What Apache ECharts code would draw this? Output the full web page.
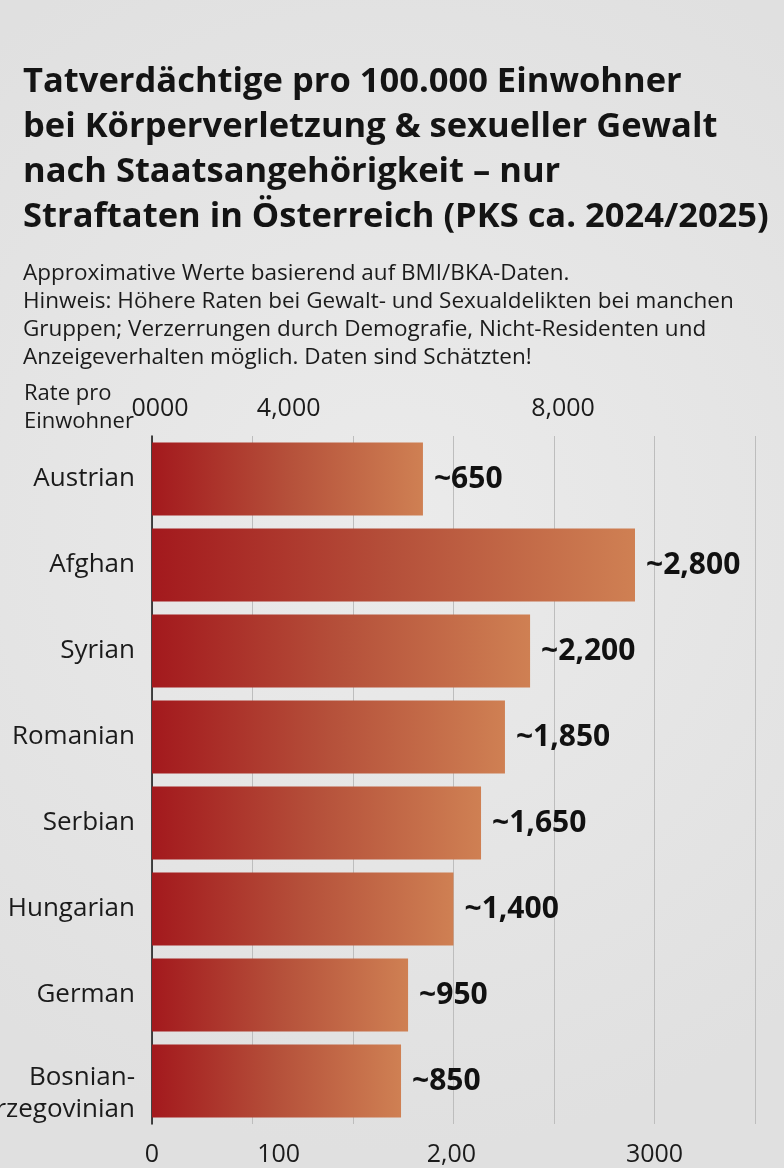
<!DOCTYPE html>
<html>
<head>
<meta charset="utf-8">
<script src="https://cdn.jsdelivr.net/npm/echarts@6/dist/echarts.min.js"></script>
<style>
  html, body { margin: 0; padding: 0; background: #e5e5e5; }
  #chart { width: 784px; height: 1168px; }
</style>
</head>
<body>
<div id="chart"></div>
<script>
// categories, top to bottom
const countries = ["Austrian", "Afghan", "Syrian", "Romanian", "Serbian", "Hungarian", "German", "Bosnian-\nHerzegovinian"]
// bar lengths as drawn, read against the gridlines (one gridline = 500 units)
const barValues = [1348, 2403, 1881, 1756, 1637, 1500, 1274, 1239]
// printed value labels next to the bars
const valueLabels = ["~650", "~2,800", "~2,200", "~1,850", "~1,650", "~1,400", "~950", "~850"]

// tick labels as printed (they don't sit on the gridlines)
const bottomTickValues = [0, 630, 1490, 2500]
const bottomTickLabels = ["0", "100", "2,00", "3000"]
const topTickValues = [40, 680, 2045]
const topTickLabels = ["0000", "4,000", "8,000"]

const titleText = "Tatverdächtige pro 100.000 Einwohner\nbei Körperverletzung & sexueller Gewalt\nnach Staatsangehörigkeit – nur\nStraftaten in Österreich (PKS ca. 2024/2025)"
const subText = "Approximative Werte basierend auf BMI/BKA-Daten.\nHinweis: Höhere Raten bei Gewalt- und Sexualdelikten bei manchen\nGruppen; Verzerrungen durch Demografie, Nicht-Residenten und\nAnzeigeverhalten möglich. Daten sind Schätzten!"

const font = "'Open Sans', 'Noto Sans', sans-serif"
const ink = "#1b1b1b"

const chart = echarts.init(document.getElementById("chart"), null, {renderer: "canvas"})

// the two-line label sits a little lower than its bar: push it down with a thin spacer line
function categoryLabel(v) {
  if (!v.includes("\n")) return v
  return "{s| }\n" + v.split("\n").map(t => "{n|" + t + "}").join("\n")
}

const option = {
  backgroundColor: new echarts.graphic.RadialGradient(0.5, 0.45, 0.8, [
    {offset: 0, color: "#ebebeb"},
    {offset: 1, color: "#e0e0e0"}
  ]),
  textStyle: {fontFamily: font},
  title: [
    {
      text: titleText,
      left: 18, top: 55,
      textStyle: {fontFamily: font, fontSize: 34.5, fontWeight: "bold", color: "#141414", lineHeight: 45}
    },
    {
      text: subText,
      left: 18, top: 255,
      textStyle: {fontFamily: font, fontSize: 22.5, fontWeight: "normal", color: ink, lineHeight: 28}
    },
    {
      text: "Rate pro\nEinwohner",
      left: 19, top: 375,
      textStyle: {fontFamily: font, fontSize: 22, fontWeight: "normal", color: ink, lineHeight: 28}
    }
  ],
  grid: {left: 152, right: 29, top: 436, height: 688, containLabel: false, outerBoundsMode: "none"},
  xAxis: [
    {
      type: "value", position: "bottom", min: 0, max: 3000, interval: 500,
      axisLine: {show: false}, axisTick: {show: false}, axisLabel: {show: false},
      splitLine: {show: true, lineStyle: {color: "#bdbdbd", width: 1}}
    },
    {
      type: "value", position: "bottom", min: 0, max: 3000,
      axisLine: {show: false}, axisTick: {show: false}, splitLine: {show: false},
      axisLabel: {
        customValues: bottomTickValues,
        formatter: v => bottomTickLabels[bottomTickValues.indexOf(v)] ?? "",
        margin: 18, fontSize: 25, color: ink, fontFamily: font
      }
    },
    {
      type: "value", position: "top", min: 0, max: 3000,
      axisLine: {show: false}, axisTick: {show: false}, splitLine: {show: false},
      axisLabel: {
        customValues: topTickValues,
        formatter: v => topTickLabels[topTickValues.indexOf(v)] ?? "",
        margin: 15, fontSize: 25, color: ink, fontFamily: font
      }
    }
  ],
  yAxis: {
    type: "category", inverse: true, data: countries,
    axisLine: {show: true, lineStyle: {color: "#111", width: 1.5}},
    axisTick: {show: false},
    axisLabel: {
      margin: 17, fontSize: 26, color: ink, fontFamily: font, lineHeight: 32,
      formatter: categoryLabel,
      rich: {
        s: {fontSize: 10, lineHeight: 26},
        n: {fontSize: 26, lineHeight: 32, color: ink, fontFamily: font}
      }
    }
  },
  series: [
    {
      type: "bar", xAxisIndex: 0, data: barValues,
      barCategoryGap: "15%",
      itemStyle: {
        color: new echarts.graphic.LinearGradient(0, 0, 1, 0, [
          {offset: 0, color: "#a3191d"},
          {offset: 0.5, color: "#b5503a"},
          {offset: 1, color: "#cf8053"}
        ])
      },
      label: {
        show: true, position: "right", distance: 11,
        formatter: p => valueLabels[p.dataIndex],
        fontFamily: font, fontSize: 30, fontWeight: "bold", color: "#111"
      },
      silent: true
    }
  ],
  animation: false
}

chart.setOption(option)
</script>
</body>
</html>
